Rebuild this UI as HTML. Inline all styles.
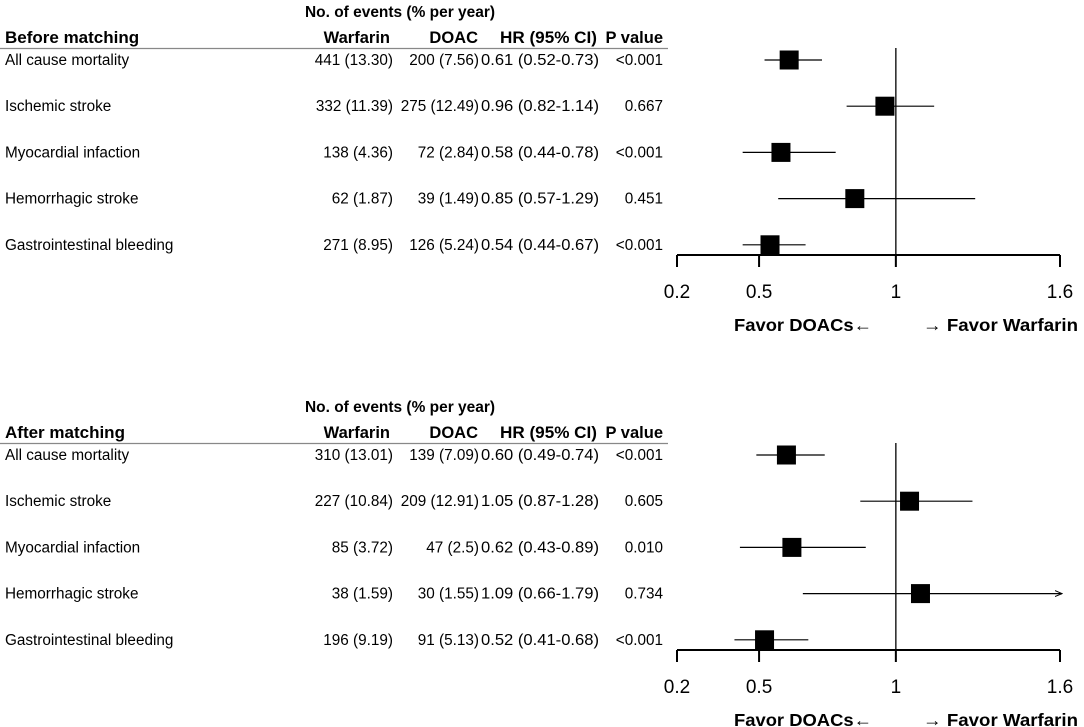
<!DOCTYPE html>
<html><head><meta charset="utf-8"><style>
html,body{margin:0;padding:0;background:#fff;}
svg{display:block;font-family:"Liberation Sans",Arial,sans-serif;}
</style></head><body>
<svg id="chart" width="1084" height="727" viewBox="0 0 1084 727"></svg>
<script>
const outcomes=["All cause mortality","Ischemic stroke","Myocardial infaction","Hemorrhagic stroke","Gastrointestinal bleeding"];
const panelTitles=["Before matching","After matching"];
const warfarinText=[["441 (13.30)","332 (11.39)","138 (4.36)","62 (1.87)","271 (8.95)"],["310 (13.01)","227 (10.84)","85 (3.72)","38 (1.59)","196 (9.19)"]];
const doacText=[["200 (7.56)","275 (12.49)","72 (2.84)","39 (1.49)","126 (5.24)"],["139 (7.09)","209 (12.91)","47 (2.5)","30 (1.55)","91 (5.13)"]];
const hr=[[0.61,0.96,0.58,0.85,0.54],[0.60,1.05,0.62,1.09,0.52]];
const lo=[[0.52,0.82,0.44,0.57,0.44],[0.49,0.87,0.43,0.66,0.41]];
const hi=[[0.73,1.14,0.78,1.29,0.67],[0.74,1.28,0.89,1.79,0.68]];
const pvals=[["<0.001","0.667","<0.001","0.451","<0.001"],["<0.001","0.605","0.010","0.734","<0.001"]];
const ticks=[0.2,0.5,1,1.6];
const tickLabels=["0.2","0.5","1","1.6"];

const svg=document.getElementById('chart');
const NS="http://www.w3.org/2000/svg";
function mk(tag,attrs,parent){const e=document.createElementNS(NS,tag);for(const k in attrs)e.setAttribute(k,attrs[k]);(parent||svg).appendChild(e);return e;}
function txt(s,x,y,size,anchor,weight,parent,len){const a={x:x,y:y,'font-size':size,'text-anchor':anchor||'start','font-weight':weight||'normal',fill:'#000'};if(len){a.textLength=len;a.lengthAdjust='spacingAndGlyphs';}const t=mk('text',a,parent);t.textContent=s;return t;}
const xMin=0.2,xMax=1.6,pxMin=677,pxMax=1060;
function xs(v){return pxMin+(v-xMin)/(xMax-xMin)*(pxMax-pxMin);}

mk('defs',{}).innerHTML='<marker id="arr" markerWidth="8" markerHeight="8" refX="7" refY="4" orient="auto" markerUnits="userSpaceOnUse"><path d="M0,1 L7,4 L0,7" fill="none" stroke="#000" stroke-width="1"/></marker>';

for(let p=0;p<2;p++){
  const off=p===0?0:395;
  const g=mk('g',{});
  
  
  let t=txt("No. of events (% per year)",400,off+17,16,'middle','bold',g,190);
  
  t=txt(panelTitles[p],5,off+43,17,'start','bold',g);
  
  t=txt("Warfarin",390,off+43,16.5,'end','bold',g);
  
  t=txt("DOAC",478,off+43,16.5,'end','bold',g);
  
  t=txt("HR (95% CI)",500,off+43,16.5,'start','bold',g,97);
  
  t=txt("P value",663,off+43,16.5,'end','bold',g);
  
  let l=mk('line',{x1:0,x2:668,y1:off+48.5,y2:off+48.5,stroke:'#888','stroke-width':1.2},g);
  
  const axY=off+255;
  l=mk('line',{x1:xs(1),x2:xs(1),y1:off+48,y2:axY+12,stroke:'#000','stroke-width':1.3},g);
  
  l=mk('line',{x1:xs(xMin),x2:xs(xMax),y1:axY,y2:axY,stroke:'#000','stroke-width':2},g);
  
  for(let i=0;i<ticks.length;i++){
    l=mk('line',{x1:xs(ticks[i]),x2:xs(ticks[i]),y1:axY,y2:axY+12,stroke:'#000','stroke-width':2},g);
    
    t=txt(tickLabels[i],xs(ticks[i]),axY+43,19,'middle','normal',g);
    
  }
  t=txt("Favor DOACs←",734,axY+76,17.5,'start','bold',g,138);
  
  t=txt("→ Favor Warfarin",923,axY+76,17.5,'start','bold',g,155);
  
  for(let i=0;i<outcomes.length;i++){
    const y=off+60+i*46.2;
    t=txt(outcomes[i],5,y+5,15.3,'start','normal',g);
    
    t=txt(warfarinText[p][i],393,y+5,15.3,'end','normal',g);
    
    t=txt(doacText[p][i],479,y+5,15.3,'end','normal',g);
    
    t=txt(hr[p][i].toFixed(2)+" ("+lo[p][i].toFixed(2)+"-"+hi[p][i].toFixed(2)+")",481,y+5,15.3,'start','normal',g,118);
    
    t=txt(pvals[p][i],663,y+5,15.3,'end','normal',g);
    
    const over=hi[p][i]>xMax;
    const ci=mk('line',{x1:xs(Math.max(lo[p][i],xMin)),x2:over?xs(xMax)+2:xs(hi[p][i]),y1:y,y2:y,stroke:'#000','stroke-width':1.2},g);
    if(over)ci.setAttribute('marker-end','url(#arr)');
    
    const s=19;
    const r=mk('rect',{x:xs(hr[p][i])-s/2,y:y-s/2,width:s,height:s,fill:'#000'},g);
    
  }
}
</script>
</body></html>
